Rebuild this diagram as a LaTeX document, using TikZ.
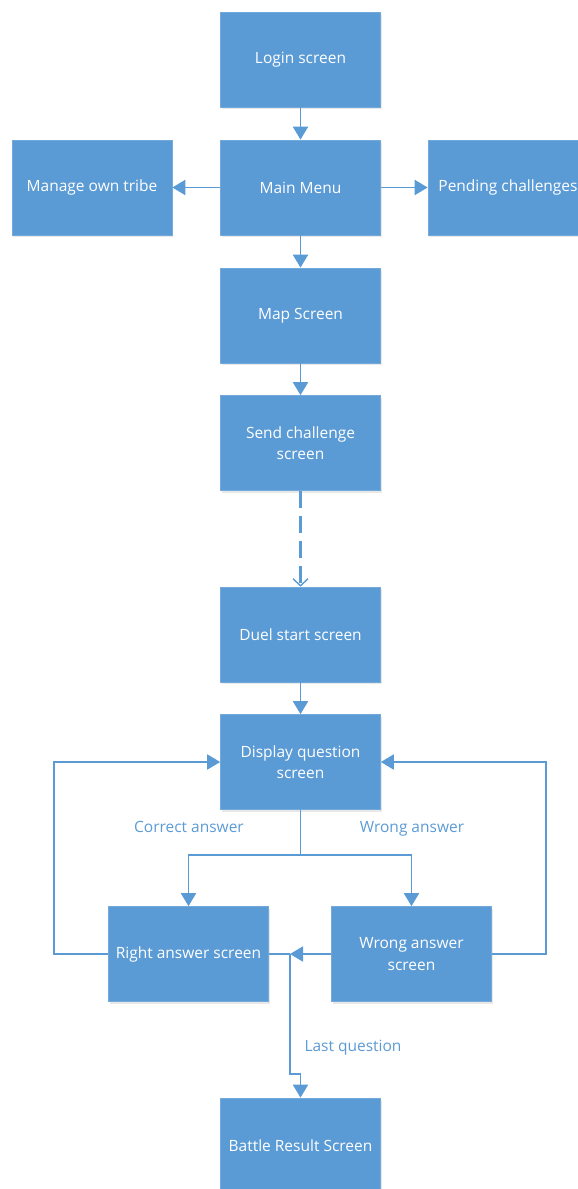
\documentclass[tikz,border=0pt]{standalone}
\usepackage{fontspec}
\setmainfont{Open Sans}
\usetikzlibrary{arrows.meta,shadows}
\definecolor{boxblue}{HTML}{5B9BD5}
\definecolor{lineblue}{HTML}{5B9BD5}
\tikzset{
  screen/.style={draw=boxblue!85!white, line width=0.6pt, fill=boxblue, text=white,
    minimum width=160pt, minimum height=95pt, inner sep=2pt, align=center,
    font=\fontsize{15.5}{21.5}\selectfont,
    drop shadow={opacity=0.18, shadow xshift=1pt, shadow yshift=-2pt}},
  conn/.style={draw=lineblue, line width=1.8pt, -{Triangle[length=13pt,width=15pt]}},
  plain/.style={draw=lineblue, line width=1.8pt},
  dconn/.style={draw=lineblue, line width=2.4pt, dash pattern=on 17pt off 8pt,
    -{Straight Barb[length=7pt,width=15pt,line width=1.4pt]}},
  lbl/.style={text=lineblue, font=\fontsize{15.5}{19}\selectfont, inner sep=0pt,
    text height=11pt, text depth=4pt}
}
\begin{document}
\begin{tikzpicture}[x=1pt,y=-1pt]
\useasboundingbox (0,0) rectangle (578,1189);
\node[screen] (login) at (300.5,59.5) {Login screen};
\node[screen] (main) at (300.5,187.5) {Main Menu};
\node[screen] (manage) at (92,187.5) {Manage own tribe};
\node[screen] (pending) at (508,187.5) {Pending challenges};
\node[screen] (map) at (300.5,315.5) {Map Screen};
\node[screen] (send) at (300.5,443) {Send challenge\\screen};
\node[screen] (duel) at (300.5,634.5) {Duel start screen};
\node[screen] (display) at (300.5,762) {Display question\\screen};
\node[screen] (right) at (188.5,954) {Right answer screen};
\node[screen] (wrong) at (411.5,954) {Wrong answer\\screen};
\node[screen] (battle) at (300.5,1145.5) {Battle Result Screen};

\coordinate (split) at (300.5,855);
\coordinate (join) at (290,954);
\coordinate (jog) at (290,1074);

\draw[conn] (login) -- (main);
\draw[conn] (main) -- (manage);
\draw[conn] (main) -- (pending);
\draw[conn] (main) -- (map);
\draw[conn] (map) -- (send);
\draw[dconn] (send) -- (duel);
\draw[conn] (duel) -- (display);
\draw[plain] (display) -- (split);
\draw[conn] (split) -| (right);
\draw[conn] (split) -| (wrong);
\draw[conn] (right.west) -- ++(-54,0) |- (display.west);
\draw[conn] (wrong.east) -- ++(54,0) |- (display.east);
\draw[plain] (right.east) -- (join);
\draw[conn] (wrong.west) -- (join);
\draw[conn] (join) -- (jog) -| (battle.north);

\node[lbl] (lc) at (189,829) {Correct answer};
\node[lbl] (lw) at (412,829) {Wrong answer};
\node[lbl] (ll) at (353,1048) {Last question};
\end{tikzpicture}
\end{document}
